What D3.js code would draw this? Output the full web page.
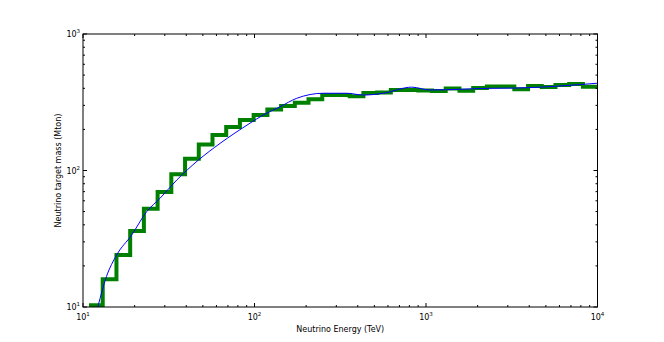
<!DOCTYPE html>
<html lang="en">
<head>
<meta charset="UTF-8">
<title>Neutrino target mass</title>
<script src="https://cdn.jsdelivr.net/npm/d3@7"></script>
<style>
  body { margin: 0; background: #fff; }
  text { font-family: "DejaVu Sans", sans-serif; fill: #000; }
</style>
</head>
<body>
<svg width="664" height="342" id="mainsvg"></svg>
<script>
// histogram bin edges (TeV) and the mass in each bin (Mton)
const binEdges = [10.84, 13.03, 15.67, 18.84, 22.65, 27.23, 32.73, 39.36, 47.32, 56.89,
  68.39, 82.22, 98.86, 118.9, 142.9, 171.8, 206.5, 248.3, 298.5, 358.9,
  431.5, 518.8, 623.7, 749.9, 901.6, 1084, 1303, 1567, 1884, 2265,
  2723, 3273, 3936, 4732, 5689, 6839, 8222, 10000];
const binMass = [10.3, 16.0, 24.0, 36.1, 52.5, 69.5, 94, 122, 155, 182,
  208, 234, 255, 280, 297, 314, 332, 357, 357, 350,
  370, 372, 389, 389, 386, 382, 399, 384, 402, 412,
  412, 393, 416, 409, 423, 430, 411];

// smooth fit curve
const fitEnergy = [12.2, 13.7, 15.7, 19.2, 23.5, 28.1, 35.2, 47.0, 63.0, 94.1,
  112.5, 140.8, 176.3, 252, 345, 431, 563, 826, 1054, 2360, 3380, 10000];
const fitMass = [10, 16.7, 24.0, 33.6, 49.9, 62.5, 85.1, 119, 158, 222,
  255, 293, 338, 368, 368, 357, 368, 408, 389, 400, 402, 436];

const xTicks = [10, 100, 1000, 10000];
const yTicks = [10, 100, 1000];

const svg = d3.select('#mainsvg');
const margin = {top: 34, left: 83, right: 66.5, bottom: 35};
const innerWidth = 664 - margin.left - margin.right;
const innerHeight = 342 - margin.top - margin.bottom;

const g = svg.append('g').attr('transform', `translate(${margin.left}, ${margin.top})`);

const xScale = d3.scaleLog().domain([10, 10000]).range([0, innerWidth]);
const yScale = d3.scaleLog().domain([10, 1000]).range([innerHeight, 0]);

g.append('clipPath').attr('id', 'plotclip')
  .append('rect').attr('width', innerWidth).attr('height', innerHeight);

const plot = g.append('g').attr('clip-path', 'url(#plotclip)');

// step histogram
const stepData = binMass.map((m, i) => [binEdges[i], m]);
stepData.push([binEdges[binEdges.length - 1], binMass[binMass.length - 1]]);
const stepLine = d3.line()
  .x(d => xScale(d[0])).y(d => yScale(d[1]))
  .curve(d3.curveStepAfter);
plot.append('path').datum(stepData)
  .attr('d', stepLine)
  .attr('fill', 'none').attr('stroke', '#008000')
  .attr('stroke-width', 4).attr('stroke-linejoin', 'miter');

// fit
const fitData = fitEnergy.map((e, i) => [e, fitMass[i]]);
const fitLine = d3.line()
  .x(d => xScale(d[0])).y(d => yScale(d[1]))
  .curve(d3.curveMonotoneX);
plot.append('path').datum(fitData)
  .attr('d', fitLine)
  .attr('fill', 'none').attr('stroke', '#0000ff').attr('stroke-width', 1);

// frame
g.append('rect').attr('width', innerWidth).attr('height', innerHeight)
  .attr('fill', 'none').attr('stroke', '#000').attr('stroke-width', 1);

// ticks pointing inward on all four sides
const minor = (lo, hi) => {
  const out = [];
  for (let d = lo; d < hi; d *= 10)
    for (let k = 2; k <= 9; k++) out.push(d * k);
  return out;
};
const ticks = g.append('g').attr('stroke', '#000').attr('stroke-width', 1);
const drawX = (vals, len) => vals.forEach(v => {
  const x = xScale(v);
  ticks.append('line').attr('x1', x).attr('x2', x).attr('y1', innerHeight).attr('y2', innerHeight - len);
  ticks.append('line').attr('x1', x).attr('x2', x).attr('y1', 0).attr('y2', len);
});
const drawY = (vals, len) => vals.forEach(v => {
  const y = yScale(v);
  ticks.append('line').attr('y1', y).attr('y2', y).attr('x1', 0).attr('x2', len);
  ticks.append('line').attr('y1', y).attr('y2', y).attr('x1', innerWidth).attr('x2', innerWidth - len);
});
drawX(xTicks, 4); drawX(minor(10, 10000), 2);
drawY(yTicks, 4); drawY(minor(10, 1000), 2);

// tick labels as 10^n, base and exponent as separate texts
const labels = g.append('g');
const powLabel = (v, x, y, anchor) => {
  const expo = String(Math.round(Math.log10(v)));
  // base "10" is about 10px wide at 8px, exponent about 3.5px
  const baseW = 10, expW = 3.6;
  const total = baseW + expW;
  const left = anchor === 'middle' ? x - total / 2 : x - total;
  labels.append('text').attr('font-size', 8).attr('x', left).attr('y', y).text('10');
  labels.append('text').attr('font-size', 5.5).attr('x', left + baseW).attr('y', y - 4).text(expo);
};
xTicks.forEach(v => powLabel(v, xScale(v), innerHeight + 13, 'middle'));
yTicks.forEach(v => powLabel(v, -3, yScale(v) + 3, 'end'));

// axis titles
g.append('text').attr('font-size', 8).attr('text-anchor', 'middle')
  .attr('x', innerWidth / 2).attr('y', innerHeight + 25)
  .text('Neutrino Energy (TeV)');
g.append('text').attr('font-size', 8).attr('text-anchor', 'middle')
  .attr('transform', 'rotate(-90)')
  .attr('x', -innerHeight / 2).attr('y', -22)
  .text('Neutrino target mass (Mton)');
</script>
</body>
</html>
